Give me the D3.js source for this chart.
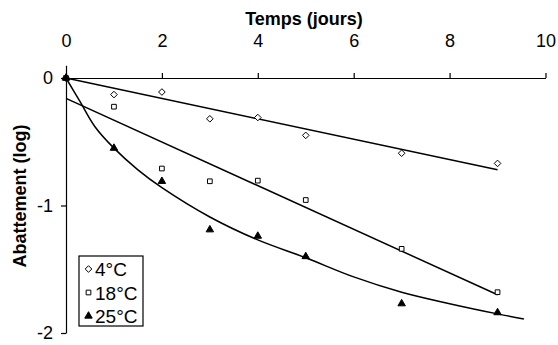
<!DOCTYPE html>
<html><head><meta charset="utf-8">
<script src="https://cdn.jsdelivr.net/npm/d3@7"></script>
<style>body{margin:0;background:#fff}svg{display:block}text{font-family:"Liberation Sans",Arial,sans-serif;fill:#000}</style>
</head><body><svg id="c" width="558" height="345"></svg>
<script>
const days = [0, 1, 2, 3, 4, 5, 7, 9];
const series4 = [0, -0.13, -0.11, -0.32, -0.31, -0.45, -0.59, -0.67];
const series18 = [0, -0.225, -0.71, -0.81, -0.805, -0.957, -1.34, -1.68];
const series25 = [0, -0.55, -0.81, -1.19, -1.24, -1.40, -1.77, -1.84];
const fit4X = [0, 9], fit4Y = [0, -0.72];
const fit18X = [0, 9], fit18Y = [-0.16, -1.70];
const fit25X = [0, 0.3, 0.6, 1, 1.5, 2, 3, 4, 5, 6, 7, 8, 9, 9.55];
const fit25Y = [0, -0.19, -0.38, -0.55, -0.72, -0.86, -1.09, -1.27, -1.41, -1.56, -1.68, -1.77, -1.85, -1.89];
const xTicks = [0, 2, 4, 6, 8, 10];
const yTicks = [0, -1, -2];
const legendLabels = ["4°C", "18°C", "25°C"];

const svg = d3.select("#c");
const x = d3.scaleLinear([0, 10], [66, 545.5]);
const y = d3.scaleLinear([0.1, -2], [65.25, 333]);

const gx = svg.append("g").attr("transform", `translate(0,${y(0)})`)
  .call(d3.axisTop(x).tickValues(xTicks).tickSize(5).tickSizeOuter(0).tickPadding(26).tickFormat(d => String(d)));
gx.selectAll("text").style("font-size", "18px");
gx.selectAll("path,line").attr("stroke", "#000").attr("stroke-width", 1.2);

const gy = svg.append("g").attr("transform", `translate(${x(0)},0)`)
  .call(d3.axisLeft(y).tickValues(yTicks).tickSize(5).tickSizeOuter(0).tickPadding(8).tickFormat(d => String(d)));
gy.selectAll("text").style("font-size", "18px");
gy.selectAll("path,line").attr("stroke", "#000").attr("stroke-width", 1.2);
svg.selectAll(".domain").attr("fill", "none");

svg.append("text").attr("x", 304).attr("y", 25).attr("text-anchor", "middle")
  .style("font-size", "18px").style("font-weight", "bold").text("Temps (jours)");
svg.append("text").attr("transform", "translate(26,196) rotate(-90)").attr("text-anchor", "middle")
  .style("font-size", "18px").style("font-weight", "bold").text("Abattement (log)");

const line = d3.line().x(d => x(d[0])).y(d => y(d[1]));
const drawFit = (xs, ys, curve) => svg.append("path")
  .attr("d", line.curve(curve)(xs.map((v, i) => [v, ys[i]])))
  .attr("fill", "none").attr("stroke", "#000").attr("stroke-width", 1.5);
drawFit(fit4X, fit4Y, d3.curveLinear);
drawFit(fit18X, fit18Y, d3.curveLinear);
drawFit(fit25X, fit25Y, d3.curveCatmullRom);

const sym = {
  diamond: d3.symbol(d3.symbolDiamond2, 28),
  square: d3.symbol(d3.symbolSquare2, 28),
  triangle: d3.symbol(d3.symbolTriangle, 24)
};
function drawPts(vals, type, filled) {
  svg.append("g").selectAll("path").data(days.map((d, i) => [d, vals[i]])).join("path")
    .attr("transform", d => `translate(${x(d[0])},${y(d[1])})`)
    .attr("d", sym[type]())
    .attr("fill", filled ? "#000" : "#fff").attr("stroke", "#000").attr("stroke-width", 1);
}
drawPts(series4, "diamond", false);
drawPts(series18, "square", false);
drawPts(series25, "triangle", true);

const lg = svg.append("g");
lg.append("rect").attr("x", 79).attr("y", 256).attr("width", 64).attr("height", 70)
  .attr("fill", "#fff").attr("stroke", "#000").attr("stroke-width", 1.2);
const types = ["diamond", "square", "triangle"];
legendLabels.forEach((lab, i) => {
  const cy = 269 + i * 23.5;
  lg.append("path").attr("transform", `translate(88.5,${cy})`).attr("d", sym[types[i]]())
    .attr("fill", i === 2 ? "#000" : "#fff").attr("stroke", "#000").attr("stroke-width", 1);
  lg.append("text").attr("x", 95).attr("y", cy + 7).style("font-size", "19px").text(lab);
});
</script></body></html>
